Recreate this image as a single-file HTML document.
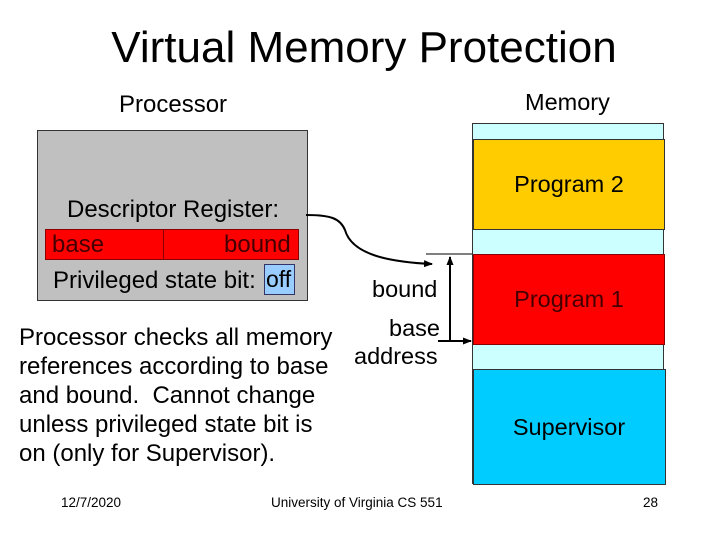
<!DOCTYPE html>
<html><head><style>
body{margin:0;width:720px;height:540px;background:#fff;position:relative;overflow:hidden;font-family:"Liberation Sans",Arial,sans-serif;color:#000}
.a{position:absolute;white-space:nowrap}
</style></head><body>
<div class="a" style="left:0;width:728px;text-align:center;top:23px;font-size:44px">Virtual Memory Protection</div>
<div class="a" style="left:119px;top:91px;font-size:24px">Processor</div>
<div class="a" style="left:525px;top:89px;font-size:23.5px">Memory</div>
<div class="a" style="left:37px;top:130px;width:269px;height:169px;background:#c0c0c0;border:1px solid #333"></div>
<div class="a" style="left:67px;top:196px;font-size:24px">Descriptor Register:</div>
<div class="a" style="left:45px;top:229px;width:252px;height:29px;background:#f00;border:1px solid #800"></div>
<div class="a" style="left:163px;top:229px;width:1px;height:30px;background:#800"></div>
<div class="a" style="left:52px;top:231px;font-size:24px;color:#400">base</div>
<div class="a" style="left:224px;top:231px;font-size:24px;color:#400">bound</div>
<div class="a" style="left:53px;top:267px;font-size:24px">Privileged state bit:</div>
<div class="a" style="left:264px;top:264px;width:29px;height:29px;background:#99ccff;border:1px solid #336"></div>
<div class="a" style="left:266px;top:266px;font-size:23px">off</div>
<div class="a" style="left:472px;top:123px;width:190px;height:359px;background:#ccffff;border:1px solid #333"></div>
<div class="a" style="left:473px;top:139px;width:190px;height:89px;background:#ffcc00;border:1px solid #333"></div>
<div class="a" style="left:473px;top:254px;width:190px;height:89px;background:#f00;border:1px solid #800"></div>
<div class="a" style="left:473px;top:369px;width:191px;height:114px;background:#00ccff;border:1px solid #333"></div>
<div class="a" style="left:473px;top:171px;width:192px;text-align:center;font-size:23.5px">Program 2</div>
<div class="a" style="left:473px;top:286px;width:192px;text-align:center;font-size:23.5px;color:#400">Program 1</div>
<div class="a" style="left:473px;top:414px;width:192px;text-align:center;font-size:23.5px">Supervisor</div>
<div class="a" style="left:372px;top:276px;font-size:23.5px">bound</div>
<div class="a" style="left:389px;top:315px;font-size:23.5px">base</div>
<div class="a" style="left:354px;top:343px;font-size:23.5px">address</div>
<div class="a" style="left:19px;top:323px;font-size:24px;line-height:29px">Processor checks all memory<br>references according to base<br>and bound.&nbsp; Cannot change<br>unless privileged state bit is<br>on (only for Supervisor).</div>
<svg class="a" style="left:0;top:0" width="720" height="540">
<defs><marker id="m" markerWidth="9" markerHeight="8" refX="8" refY="4" orient="auto" markerUnits="userSpaceOnUse"><path d="M0,0.5 L9,4 L0,7.5z" fill="#000"/></marker></defs>
<path d="M306,215 C330,215 340,218 345,230 C352,255 390,262 432,264" fill="none" stroke="#000" stroke-width="2" marker-end="url(#m)"/>
<line x1="426" y1="254" x2="472" y2="254" stroke="#000" stroke-width="1"/>
<line x1="450" y1="342" x2="450" y2="257" stroke="#000" stroke-width="2" marker-end="url(#m)"/>
<line x1="438" y1="341" x2="471" y2="341" stroke="#000" stroke-width="2" marker-end="url(#m)"/>
</svg>
<div class="a" style="left:61px;top:495px;font-size:13.5px">12/7/2020</div>
<div class="a" style="left:271px;top:495px;font-size:13.5px">University of Virginia CS 551</div>
<div class="a" style="left:643px;top:495px;font-size:13.5px">28</div>
</body></html>
